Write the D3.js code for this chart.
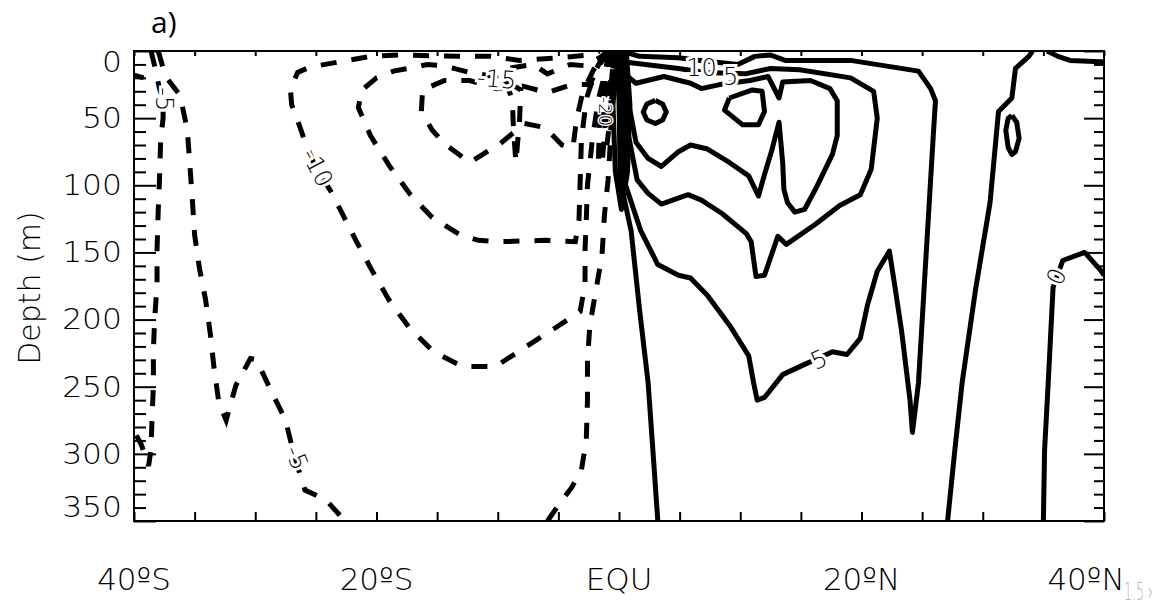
<!DOCTYPE html>
<html><head><meta charset="utf-8">
<script src="https://cdn.jsdelivr.net/npm/d3@7"></script>
<style>
body{margin:0;background:#fff}
.thin{font-family:"DejaVu Sans ExtraLight","DejaVu Sans",sans-serif;font-weight:200}
</style>
</head><body>
<svg id="chart" width="1156" height="602"></svg>
<script>
// ---------- axis data ----------
const latDomain = [-40, 40];
const depthDomain = [0, 350];
const xTickValues = d3.range(-40, 41, 5);
const xLabelValues = [-40, -20, 0, 20, 40];
const xLabelTexts = ["40ºS", "20ºS", "EQU", "20ºN", "40ºN"];
const yMinorTicks = d3.range(0, 351, 10);
const yLabelValues = [0, 50, 100, 150, 200, 250, 300, 350];

// ---------- contour lines: [latitude, depth(m)] ----------
// negative streamfunction (dashed)
const negA = [[-38.6,0],[-38.3,11],[-37.9,28],[-37.6,36],[-37.6,50],[-37.8,66],[-37.9,96],[-38.0,118],[-38.1,148],[-38.1,174],[-38.3,200],[-38.4,223],[-38.4,249],[-38.5,271],[-38.6,297],[-38.8,309],[-39.4,293],[-40.0,283]];
const negA2 = [[-40.0,18],[-39.2,20]];
const negB = [[-38.0,0],[-37.4,19],[-36.2,33],[-35.6,59],[-35.2,109],[-35.0,137],[-34.6,162],[-34.1,185],[-33.7,211],[-33.4,236],[-33.0,262],[-32.4,275],[-31.6,249],[-30.4,229],[-29.9,230],[-28.8,251],[-27.5,275],[-26.8,301],[-25.9,327],[-24.2,334],[-22.6,350]];
const neg5R = [[-5.9,350],[-4.9,337],[-3.9,325],[-3.1,312],[-2.7,290],[-2.6,260],[-2.6,230],[-2.4,204],[-1.9,178],[-1.4,152],[-1.2,122],[-0.9,96],[-0.7,66],[-0.6,36],[-0.5,14],[-0.4,0]];
const neg10 = [[-0.8,0],[-1.2,18],[-1.7,36],[-2.2,66],[-2.6,100],[-2.7,126],[-2.8,148],[-2.8,173],[-3.2,194],[-5.4,207],[-7.8,221],[-10.2,235],[-12.9,235],[-15.3,224],[-17.3,206],[-19.0,185],[-20.4,163],[-21.7,141],[-23.0,118],[-23.8,104],[-25.1,85],[-25.8,70],[-26.3,57],[-27.0,40],[-27.1,28],[-26.5,16],[-25.5,12],[-23.0,8],[-20.5,4],[-18.1,3],[-12.7,4],[-10.6,4],[-8.2,7],[-4.9,5],[-2.4,3],[-1.6,0]];
const neg15 = [[-0.7,0],[-1.6,5],[-2.8,11],[-4.0,10],[-5.9,17],[-7.1,10],[-9.2,13],[-10.2,19],[-12.3,16],[-14.5,11],[-15.8,10],[-17.4,13],[-18.6,15],[-20.0,20],[-21.2,29],[-21.5,42],[-20.5,63],[-18.9,86],[-17.2,107],[-15.4,124],[-13.1,137],[-11.6,141],[-9.8,142],[-6.1,141],[-3.6,142],[-3.3,126],[-3.2,96],[-3.1,66],[-2.8,44],[-2.6,33],[-1.9,14],[-1.1,0]];
const neg20 = [[-0.8,0],[-1.6,10],[-2.4,25],[-3.9,25],[-5.9,31],[-8.0,26],[-10.1,28],[-12.3,22],[-14.4,22],[-16.2,29],[-16.3,45],[-15.4,59],[-14.4,69],[-12.3,83],[-9.8,69],[-7.8,54],[-6.1,57],[-4.7,70],[-3.8,72],[-3.5,51],[-3.0,31],[-2.1,14],[-1.3,3],[-1.0,0]];
const neg25 = [[-9.4,22],[-8.8,36],[-8.7,59],[-8.5,83],[-8.2,51],[-8.1,29],[-9.4,22]];
const neg25b = [[-0.6,0],[-1.2,22],[-1.6,51],[-1.7,81],[-1.4,85],[-1.1,51],[-0.7,22],[-0.5,0]];
const neg30 = [[-0.5,0],[-1.0,20],[-1.3,45],[-1.0,70],[-0.7,48],[-0.6,20],[-0.4,0]];

// positive streamfunction (solid)
const pos0 = [[-0.2,0],[0.0,36],[0.1,96],[1.0,134],[1.7,193],[2.4,247],[2.8,298],[3.2,350]];
const pos5 = [[0.2,0],[1.7,4],[4.9,5],[6.7,7],[9.8,10],[11.2,4],[12.5,3],[13.7,7],[19.1,7],[24.7,15],[25.7,28],[26.1,37],[25.9,66],[25.7,96],[25.2,171],[24.7,247],[24.2,284],[24.0,260],[23.3,208],[22.8,178],[22.3,149],[21.3,164],[20.5,189],[19.9,214],[18.8,226],[17.6,224],[16.4,229],[15.4,233],[13.5,241],[12.0,258],[11.4,260],[11.1,247],[10.7,227],[9.1,204],[7.3,182],[5.9,169],[4.9,167],[3.2,159],[1.8,134],[0.4,96],[0.2,51],[0.2,14],[0.1,0]];
const pos10 = [[0.1,0],[0.3,8],[4.9,13],[7.1,16],[10.4,17],[12.5,13],[14.9,14],[19.1,20],[21.0,30],[21.3,50],[20.8,88],[19.9,107],[18.2,115],[16.2,129],[13.8,144],[13.1,138],[12.0,167],[11.3,168],[10.9,142],[10.5,136],[8.5,121],[6.8,111],[5.7,107],[3.5,114],[2.4,106],[1.5,96],[0.7,59],[0.5,29],[0.3,10]];
const pos15 = [[0.3,0],[0.6,18],[1.4,24],[3.7,19],[5.9,24],[6.8,28],[8.3,25],[10.8,22],[12.3,19],[13.2,35],[13.5,23],[15.8,22],[17.4,28],[18.0,37],[18.0,63],[17.6,77],[16.2,103],[15.3,118],[14.5,120],[13.9,113],[13.6,103],[13.5,83],[13.2,53],[12.6,74],[12.0,92],[11.5,108],[10.7,93],[9.1,83],[7.3,73],[5.9,70],[4.9,75],[3.5,86],[2.4,80],[1.4,68],[0.9,44],[0.7,25],[0.5,0]];
const pos20a = [[3.0,36.8],[3.6,39.5],[3.9,45.4],[3.6,51.4],[3.0,54.0],[2.3,51.4],[2.0,45.4],[2.3,39.5],[3.0,36.8]];
const pos20b = [[9.1,35],[11.0,29],[11.8,30],[12.0,45],[11.5,55],[10.2,55],[8.7,44],[9.1,35]];
const pos25 = [[-0.1,0],[-0.5,40],[-0.3,90],[0.2,118],[0.7,90],[0.9,40],[0.6,0]];
const pos30 = [[0.0,0],[0.2,50],[0.5,100],[0.4,50],[0.3,0]];
const posR1 = [[34.1,0],[33.8,4],[32.7,13],[32.4,35],[31.3,45],[30.6,113],[29.4,178],[28.3,247],[27.7,297],[27.1,350]];
const posR2 = [[32.4,48],[32.8,53],[33.0,65],[32.7,75],[32.4,77],[32.1,72],[31.9,59],[32.1,50],[32.4,48]];
const posR3 = [[35.0,350],[35.1,297],[35.4,247],[35.8,176],[36.6,156],[38.4,150],[39.7,163],[40.0,167]];
const posR4 = [[35.3,0],[36.2,4],[37.2,7],[39.7,8],[40.0,8]];

// contour labels: text, latitude, depth, angle
const labelTexts  = ["-5", "-10", "-15", "-5", "-20", "10", "5", "5", "0"];
const labelLats   = [-37.5, -24.9, -10.1, -26.6, -1.1, 6.8, 9.2, 16.5, 36.1];
const labelDepths = [36, 87, 21, 303, 45, 13, 19, 230, 168];
const labelAngles = [90, 62, 5, 68, 90, 0, 0, -25, -65];

// ---------- build ----------
const negLines = [negA, negA2, negB, neg5R, neg10, neg15, neg20, neg25, neg25b, neg30];
const posLines = [pos0, pos5, pos10, pos15, pos20a, pos20b, pos25, pos30, posR1, posR2, posR3, posR4];

const svg = d3.select("#chart");
const x = d3.scaleLinear().domain(latDomain).range([134, 1104]);
const y = d3.scaleLinear().domain(depthDomain).range([51, 521]);
const line = d3.line().x(d => x(d[0])).y(d => y(d[1]));

svg.append("defs").append("clipPath").attr("id", "plotclip")
  .append("rect").attr("x", x(-40)).attr("y", y(0))
  .attr("width", x(40) - x(-40)).attr("height", y(350) - y(0));

const plot = svg.append("g").attr("clip-path", "url(#plotclip)");
plot.selectAll("path.neg").data(negLines).join("path").attr("class", "neg")
  .attr("d", line).attr("fill", "none").attr("stroke", "#000")
  .attr("stroke-width", 5).attr("stroke-dasharray", "16,15");
plot.selectAll("path.pos").data(posLines).join("path").attr("class", "pos")
  .attr("d", line).attr("fill", "none").attr("stroke", "#000")
  .attr("stroke-width", 5).attr("stroke-linejoin", "round");

// contour labels
plot.selectAll("text.clab").data(labelTexts).join("text")
  .attr("class", "clab thin")
  .attr("transform", (d, i) => `translate(${x(labelLats[i])},${y(labelDepths[i])}) rotate(${labelAngles[i]})`)
  .attr("text-anchor", "middle").attr("dominant-baseline", "central")
  .attr("font-size", (d, i) => i === 4 ? 18 : 24).attr("fill", "#000")
  .attr("stroke", "#fff").attr("stroke-width", (d, i) => i === 4 ? 3 : 6).attr("paint-order", "stroke")
  .text(d => d);

// axes (ticks pointing inward)
function styleAxis(g) {
  g.select(".domain").remove();
  g.selectAll(".tick line").attr("stroke", "#000").attr("stroke-width", 2);
  g.selectAll(".tick text").remove();
}
svg.append("g").attr("transform", `translate(0,${y(350)})`)
  .call(d3.axisBottom(x).tickValues(xTickValues).tickSize(-9)).call(styleAxis);
svg.append("g").attr("transform", `translate(0,${y(0)})`)
  .call(d3.axisTop(x).tickValues(xTickValues).tickSize(-5)).call(styleAxis);
svg.append("g").attr("transform", `translate(${x(-40)},0)`)
  .call(d3.axisLeft(y).tickValues(yMinorTicks.filter(v => v % 50)).tickSize(-12)).call(styleAxis);
svg.append("g").attr("transform", `translate(${x(-40)},0)`)
  .call(d3.axisLeft(y).tickValues(yLabelValues).tickSize(-22)).call(styleAxis);
svg.append("g").attr("transform", `translate(${x(40)},0)`)
  .call(d3.axisRight(y).tickValues(yMinorTicks.filter(v => v % 50)).tickSize(-10)).call(styleAxis);
svg.append("g").attr("transform", `translate(${x(40)},0)`)
  .call(d3.axisRight(y).tickValues(yLabelValues).tickSize(-20)).call(styleAxis);

// frame
svg.append("rect").attr("x", x(-40)).attr("y", y(0))
  .attr("width", x(40) - x(-40)).attr("height", y(350) - y(0))
  .attr("fill", "none").attr("stroke", "#000").attr("stroke-width", 2);

// tick labels
svg.selectAll("text.ylab").data(yLabelValues).join("text").attr("class", "ylab thin")
  .attr("transform", v => `translate(122,${Math.min(Math.max(y(v), y(0) + 11), y(350) - 14)}) scale(1.12,1)`)
  .attr("text-anchor", "end").attr("dominant-baseline", "central")
  .attr("font-size", 28).attr("fill", "#000").text(v => v);
svg.selectAll("text.xlab").data(xLabelValues).join("text").attr("class", "xlab thin")
  .attr("x", v => Math.min(x(v), 1086)).attr("y", 590)
  .attr("text-anchor", "middle").attr("font-size", 31).attr("fill", "#000")
  .text((v, i) => xLabelTexts[i]);

// axis title
svg.append("text").attr("class", "thin")
  .attr("transform", "translate(40,288) rotate(-90)")
  .attr("text-anchor", "middle").attr("font-size", 30).attr("fill", "#000")
  .text("Depth (m)");

// panel label
svg.append("text").attr("x", 151).attr("y", 33)
  .attr("font-family", "'Open Sans', sans-serif").attr("font-size", 30).attr("fill", "#000")
  .text("a)");

// page marker
svg.append("text").attr("class", "thin").attr("x", 1124).attr("y", 600)
  .attr("font-size", 25).attr("textLength", 29).attr("lengthAdjust", "spacingAndGlyphs")
  .attr("fill", "#b0b0b0").text("1.5 ›");
</script>
</body></html>
